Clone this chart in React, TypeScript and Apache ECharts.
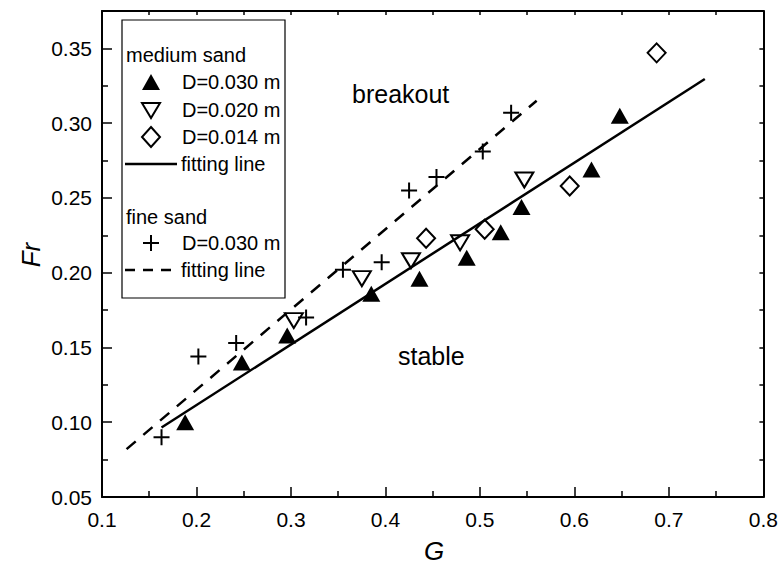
import React, { useEffect, useRef } from "react";
import * as echarts from "echarts";

// Medium sand, D = 0.030 m (filled up-triangles)
const medium030G = [0.188, 0.248, 0.296, 0.385, 0.436, 0.486, 0.522, 0.544, 0.618, 0.648];
const medium030Fr = [0.100, 0.140, 0.158, 0.186, 0.196, 0.210, 0.227, 0.244, 0.269, 0.305];
// Medium sand, D = 0.020 m (open down-triangles)
const medium020G = [0.303, 0.375, 0.427, 0.479, 0.547];
const medium020Fr = [0.168, 0.196, 0.208, 0.220, 0.262];
// Medium sand, D = 0.014 m (open diamonds)
const medium014G = [0.443, 0.505, 0.595, 0.687];
const medium014Fr = [0.223, 0.229, 0.258, 0.347];
// Fine sand, D = 0.030 m (plus)
const fine030G = [0.163, 0.202, 0.242, 0.316, 0.355, 0.396, 0.425, 0.454, 0.503, 0.533];
const fine030Fr = [0.090, 0.144, 0.153, 0.170, 0.202, 0.207, 0.255, 0.264, 0.281, 0.307];
// Fitting lines (end points)
const mediumFitG = [0.163, 0.738];
const mediumFitFr = [0.0965, 0.3295];
const fineFitG = [0.126, 0.56];
const fineFitFr = [0.082, 0.315];

const xTicks = { min: 0.1, max: 0.8, interval: 0.1 };
const yTicks = { min: 0.05, max: 0.375, interval: 0.05 };

const FONT = "'Liberation Sans', Arial, Helvetica, sans-serif";

const zip = (xs: number[], ys: number[]) => xs.map((x, i) => [x, ys[i]]);

export default function App() {
  const ref = useRef<HTMLDivElement>(null);
  useEffect(() => {
    document.body.style.margin = "0";
    if (!ref.current) return;
    const chart = echarts.init(ref.current, null, { renderer: "svg" });
    const axisLine = { show: true, onZero: false, lineStyle: { color: "#000", width: 2 } };
    const plusPath = "path://M0,5L10,5M5,0L5,10";
    const lx = 151;
    const tx = 182;
    const legendText = (text: string, x: number, y: number) => ({
      type: "text",
      x,
      y,
      z: 20,
      style: { text, font: `20px ${FONT}`, fill: "#000", align: "left", verticalAlign: "middle" },
    });
    const option: any = {
      animation: false,
      backgroundColor: "#fff",
      grid: { left: 102, right: 17, top: 11, bottom: 72, show: false },
      xAxis: [
        {
          type: "value",
          position: "bottom",
          min: xTicks.min,
          max: xTicks.max,
          interval: xTicks.interval,
          axisLine,
          axisTick: { show: true, inside: true, length: 10, lineStyle: { color: "#000", width: 1.5 } },
          minorTick: { show: true, splitNumber: 2, length: 6, lineStyle: { color: "#000", width: 1.5 } },
          splitLine: { show: false },
          minorSplitLine: { show: false },
          axisLabel: { color: "#000", fontSize: 21, fontFamily: FONT, margin: 12 },
        },
        {
          type: "value",
          position: "top",
          min: xTicks.min,
          max: xTicks.max,
          interval: 0.05,
          axisLine,
          axisTick: { show: true, inside: true, length: 4, lineStyle: { color: "#000", width: 1.5 } },
          splitLine: { show: false },
          axisLabel: { show: false },
        },
      ],
      yAxis: [
        {
          type: "value",
          position: "left",
          min: yTicks.min,
          max: yTicks.max,
          interval: yTicks.interval,
          axisLine,
          axisTick: { show: true, inside: true, length: 10, lineStyle: { color: "#000", width: 1.5 } },
          minorTick: { show: true, splitNumber: 2, length: 6, lineStyle: { color: "#000", width: 1.5 } },
          splitLine: { show: false },
          minorSplitLine: { show: false },
          axisLabel: {
            color: "#000",
            fontSize: 21,
            fontFamily: FONT,
            margin: 10,
            showMaxLabel: false,
            formatter: (v: number) => (v > 0.36 ? "" : v.toFixed(2)),
          },
        },
        {
          type: "value",
          position: "right",
          min: yTicks.min,
          max: yTicks.max,
          interval: 0.025,
          axisLine,
          axisTick: { show: true, inside: true, length: 4, lineStyle: { color: "#000", width: 1.5 } },
          splitLine: { show: false },
          axisLabel: { show: false },
        },
      ],
      series: [
        {
          type: "line",
          data: zip(mediumFitG, mediumFitFr),
          symbol: "none",
          lineStyle: { color: "#000", width: 2.5 },
          z: 1,
        },
        {
          type: "line",
          data: zip(fineFitG, fineFitFr),
          symbol: "none",
          lineStyle: { color: "#000", width: 2.5, type: [12, 10] },
          z: 1,
        },
        {
          type: "scatter",
          data: zip(medium030G, medium030Fr),
          symbol: "triangle",
          symbolSize: [18, 16],
          itemStyle: { color: "#000", opacity: 1 },
          z: 3,
        },
        {
          type: "scatter",
          data: zip(medium020G, medium020Fr),
          symbol: "triangle",
          symbolRotate: 180,
          symbolSize: [18, 15],
          itemStyle: { color: "none", borderColor: "#000", borderWidth: 2, opacity: 1 },
          z: 3,
        },
        {
          type: "scatter",
          data: zip(medium014G, medium014Fr),
          symbol: "diamond",
          symbolSize: [18, 19],
          itemStyle: { color: "none", borderColor: "#000", borderWidth: 2, opacity: 1 },
          z: 3,
        },
        {
          type: "scatter",
          data: zip(fine030G, fine030Fr),
          symbol: plusPath,
          symbolSize: 16,
          itemStyle: { color: "none", borderColor: "#000", borderWidth: 2, opacity: 1 },
          z: 3,
        },
      ],
      graphic: [
        {
          type: "rect",
          z: 10,
          shape: { x: 122, y: 20, width: 163, height: 278 },
          style: { fill: "#fff", stroke: "#000", lineWidth: 1.2 },
        },
        legendText("medium sand", 126, 55),
        {
          type: "polygon",
          z: 20,
          shape: { points: [[lx, 74], [lx + 9, 90], [lx - 9, 90]] },
          style: { fill: "#000" },
        },
        legendText("D=0.030 m", tx, 82),
        {
          type: "polygon",
          z: 20,
          shape: { points: [[lx - 9, 103], [lx + 9, 103], [lx, 118]] },
          style: { fill: "none", stroke: "#000", lineWidth: 2 },
        },
        legendText("D=0.020 m", tx, 110),
        {
          type: "polygon",
          z: 20,
          shape: { points: [[lx, 127], [lx + 9, 137], [lx, 147], [lx - 9, 137]] },
          style: { fill: "none", stroke: "#000", lineWidth: 2 },
        },
        legendText("D=0.014 m", tx, 137),
        {
          type: "line",
          z: 20,
          shape: { x1: 125, y1: 164, x2: 177, y2: 164 },
          style: { stroke: "#000", lineWidth: 2.5 },
        },
        legendText("fitting line", 181, 164),
        legendText("fine sand", 126, 217),
        {
          type: "line",
          z: 20,
          shape: { x1: lx - 8, y1: 243, x2: lx + 8, y2: 243 },
          style: { stroke: "#000", lineWidth: 2 },
        },
        {
          type: "line",
          z: 20,
          shape: { x1: lx, y1: 235, x2: lx, y2: 251 },
          style: { stroke: "#000", lineWidth: 2 },
        },
        legendText("D=0.030 m", tx, 243),
        {
          type: "line",
          z: 20,
          shape: { x1: 125, y1: 270, x2: 177, y2: 270 },
          style: { stroke: "#000", lineWidth: 2.5, lineDash: [10, 8] },
        },
        legendText("fitting line", 181, 270),
        {
          type: "text",
          x: 352,
          y: 94,
          z: 20,
          style: { text: "breakout", font: `25px ${FONT}`, fill: "#000", align: "left", verticalAlign: "middle" },
        },
        {
          type: "text",
          x: 398,
          y: 356,
          z: 20,
          style: { text: "stable", font: `25px ${FONT}`, fill: "#000", align: "left", verticalAlign: "middle" },
        },
        {
          type: "text",
          x: 31,
          y: 255,
          z: 20,
          rotation: Math.PI / 2,
          style: { text: "Fr", font: `italic 26px ${FONT}`, fill: "#000", align: "center", verticalAlign: "middle" },
        },
        {
          type: "text",
          x: 434,
          y: 551,
          z: 20,
          style: { text: "G", font: `italic 26px ${FONT}`, fill: "#000", align: "center", verticalAlign: "middle" },
        },
      ],
    };
    chart.setOption(option);
    return () => chart.dispose();
  }, []);
  return <div ref={ref} style={{ width: 781, height: 569 }} />;
}
